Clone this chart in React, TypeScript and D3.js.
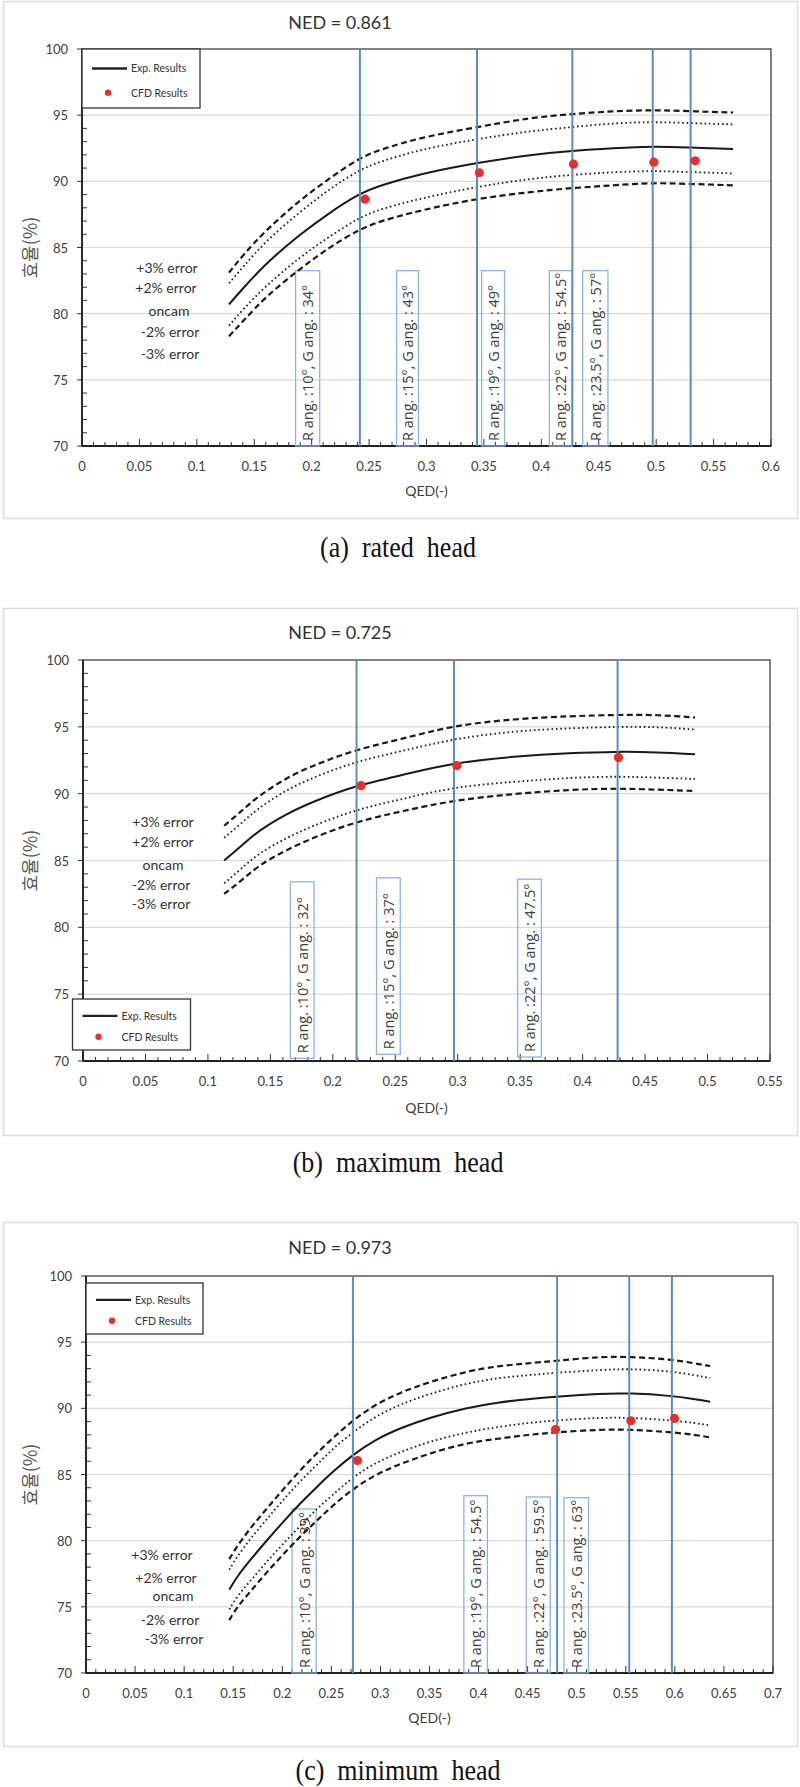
import { useEffect, useRef } from 'react';
import * as d3 from 'd3';

// ---- (a) rated head, NED = 0.861 ----
const qedA = [0.128, 0.14, 0.16, 0.19, 0.215, 0.242, 0.26, 0.294, 0.344, 0.39, 0.427, 0.4625, 0.497, 0.53, 0.567];
const oncamA = [80.7, 81.9, 83.8, 86.0, 87.6, 89.1, 89.7, 90.55, 91.4, 92.0, 92.3, 92.5, 92.65, 92.55, 92.45];
const plus3A = [83.1, 84.4, 86.3, 88.6, 90.2, 91.8, 92.4, 93.3, 94.1, 94.8, 95.1, 95.3, 95.4, 95.3, 95.2];
const plus2A = [82.3, 83.5, 85.5, 87.7, 89.4, 90.9, 91.5, 92.4, 93.2, 93.8, 94.1, 94.4, 94.5, 94.4, 94.3];
const minus2A = [79.1, 80.3, 82.1, 84.3, 85.8, 87.3, 87.9, 88.7, 89.6, 90.2, 90.5, 90.7, 90.8, 90.7, 90.6];
const minus3A = [78.3, 79.4, 81.3, 83.4, 85.0, 86.4, 87.0, 87.8, 88.7, 89.2, 89.5, 89.7, 89.9, 89.8, 89.7];
const cfdQA = [0.2465, 0.346, 0.428, 0.498, 0.534];
const cfdEA = [88.65, 90.65, 91.3, 91.45, 91.55];
const guidesA = [0.242, 0.344, 0.427, 0.497, 0.53];
const boxLabelsA = [
  'R ang. :10°, G ang. : 34°',
  'R ang. :15°, G ang. : 43°',
  'R ang. :19°, G ang. : 49°',
  'R ang. :22°, G ang. : 54.5°',
  'R ang. :23.5°, G ang. : 57°',
];
const boxFromA = [0.186, 0.274, 0.348, 0.407, 0.436];
const boxToA = [0.207, 0.293, 0.368, 0.427, 0.458];
const boxTopA = [83.25, 83.25, 83.25, 83.25, 83.25];
const boxBottomA = [70, 70, 70, 70, 70];

// ---- (b) maximum head, NED = 0.725 ----
const qedB = [0.113, 0.127, 0.14, 0.163, 0.184, 0.218, 0.256, 0.296, 0.346, 0.39, 0.428, 0.46, 0.49];
const oncamB = [85.0, 86.1, 87.2, 88.5, 89.4, 90.6, 91.4, 92.3, 92.8, 93.05, 93.15, 93.1, 92.95];
const plus3B = [87.6, 88.7, 89.8, 91.2, 92.1, 93.3, 94.1, 95.1, 95.6, 95.8, 95.9, 95.9, 95.7];
const plus2B = [86.7, 87.8, 88.9, 90.3, 91.2, 92.4, 93.2, 94.1, 94.7, 94.9, 95.0, 95.0, 94.8];
const minus2B = [83.3, 84.4, 85.5, 86.7, 87.6, 88.8, 89.6, 90.5, 90.9, 91.2, 91.3, 91.2, 91.1];
const minus3B = [82.5, 83.5, 84.6, 85.8, 86.7, 87.9, 88.7, 89.5, 90.0, 90.3, 90.4, 90.3, 90.2];
const cfdQB = [0.2226, 0.2993, 0.4287];
const cfdEB = [90.6, 92.1, 92.7];
const guidesB = [0.219, 0.297, 0.428];
const boxLabelsB = [
  'R ang. :10°, G ang. : 32°',
  'R ang. :15°, G ang. : 37°',
  'R ang. :22°, G ang. : 47.5°',
];
const boxFromB = [0.166, 0.235, 0.348];
const boxToB = [0.185, 0.254, 0.367];
const boxTopB = [83.4, 83.7, 83.6];
const boxBottomB = [70.2, 70.5, 70.3];

// ---- (c) minimum head, NED = 0.973 ----
const qedC = [0.146, 0.154, 0.168, 0.184, 0.2, 0.218, 0.235, 0.252, 0.272, 0.295, 0.32, 0.35, 0.388, 0.42, 0.45, 0.48, 0.524, 0.554, 0.597, 0.62, 0.636];
const oncamC = [76.3, 77.3, 78.6, 80.0, 81.35, 82.8, 84.05, 85.25, 86.5, 87.65, 88.5, 89.3, 90.05, 90.45, 90.7, 90.9, 91.12, 91.15, 90.95, 90.7, 90.5];
const plus3C = [78.6, 79.6, 81.0, 82.4, 83.8, 85.3, 86.6, 87.8, 89.1, 90.3, 91.2, 92.0, 92.8, 93.2, 93.4, 93.6, 93.9, 93.9, 93.7, 93.4, 93.2];
const plus2C = [77.8, 78.8, 80.2, 81.6, 83.0, 84.5, 85.7, 87.0, 88.2, 89.4, 90.3, 91.1, 91.9, 92.3, 92.5, 92.7, 92.9, 93.0, 92.8, 92.5, 92.3];
const minus2C = [74.8, 75.8, 77.0, 78.4, 79.7, 81.1, 82.4, 83.5, 84.8, 85.9, 86.7, 87.5, 88.2, 88.6, 88.9, 89.1, 89.3, 89.3, 89.1, 88.9, 88.7];
const minus3C = [74.0, 75.0, 76.2, 77.6, 78.9, 80.3, 81.5, 82.7, 83.9, 85.0, 85.8, 86.6, 87.4, 87.7, 88.0, 88.2, 88.4, 88.4, 88.2, 88.0, 87.8];
const cfdQC = [0.2766, 0.4784, 0.5551, 0.5997];
const cfdEC = [86.05, 88.4, 89.06, 89.24];
const guidesC = [0.272, 0.48, 0.5535, 0.597];
const boxLabelsC = [
  'R ang. :10°, G ang. : 39°',
  'R ang. :19°, G ang. : 54.5°',
  'R ang. :22°, G ang. : 59.5°',
  'R ang. :23.5°, G ang. : 63°',
];
const boxFromC = [0.21, 0.385, 0.4485, 0.487];
const boxToC = [0.2345, 0.409, 0.473, 0.512];
const boxTopC = [82.4, 83.4, 83.3, 83.25];
const boxBottomC = [70, 70, 70, 70];

const errorLabels = ['+3% error', '+2% error', 'oncam', '-2% error', '-3% error'];
const yTicks = [70, 75, 80, 85, 90, 95, 100];

const SANS = "Lato, 'Open Sans', sans-serif";

interface Panel {
  ned: string;
  caption: string;
  xMax: number;
  left: number; right: number; top: number; bottom: number;
  frameTop: number; frameBottom: number;
  titleY: number; captionY: number; qedY: number;
  qed: number[]; oncam: number[]; plus3: number[]; plus2: number[]; minus2: number[]; minus3: number[];
  cfdQ: number[]; cfdE: number[]; guides: number[];
  boxLabels: string[]; boxFrom: number[]; boxTo: number[]; boxTop: number[]; boxBottom: number[];
  errX: number[]; errY: number[];
  legend: { x: number; y: number; w: number; h: number };
}

const panels: Panel[] = [
  {
    ned: 'NED = 0.861', caption: '(a)  rated  head', xMax: 0.6,
    left: 82, right: 771, top: 49, bottom: 446, frameTop: 1, frameBottom: 518,
    titleY: 22, captionY: 547, qedY: 490,
    qed: qedA, oncam: oncamA, plus3: plus3A, plus2: plus2A, minus2: minus2A, minus3: minus3A,
    cfdQ: cfdQA, cfdE: cfdEA, guides: guidesA,
    boxLabels: boxLabelsA, boxFrom: boxFromA, boxTo: boxToA, boxTop: boxTopA, boxBottom: boxBottomA,
    errX: [167, 166, 169, 170, 170], errY: [267, 287, 310, 331, 353],
    legend: { x: 82, y: 49, w: 118, h: 59 },
  },
  {
    ned: 'NED = 0.725', caption: '(b)  maximum  head', xMax: 0.55,
    left: 83, right: 770, top: 660, bottom: 1061, frameTop: 608, frameBottom: 1135,
    titleY: 632, captionY: 1162, qedY: 1107,
    qed: qedB, oncam: oncamB, plus3: plus3B, plus2: plus2B, minus2: minus2B, minus3: minus3B,
    cfdQ: cfdQB, cfdE: cfdEB, guides: guidesB,
    boxLabels: boxLabelsB, boxFrom: boxFromB, boxTo: boxToB, boxTop: boxTopB, boxBottom: boxBottomB,
    errX: [163, 163, 163, 161, 161], errY: [821, 841, 864, 884, 903],
    legend: { x: 72.5, y: 999, w: 118, h: 51 },
  },
  {
    ned: 'NED = 0.973', caption: '(c)  minimum  head', xMax: 0.7,
    left: 86, right: 773, top: 1276, bottom: 1673, frameTop: 1222, frameBottom: 1746,
    titleY: 1247, captionY: 1770, qedY: 1717,
    qed: qedC, oncam: oncamC, plus3: plus3C, plus2: plus2C, minus2: minus2C, minus3: minus3C,
    cfdQ: cfdQC, cfdE: cfdEC, guides: guidesC,
    boxLabels: boxLabelsC, boxFrom: boxFromC, boxTo: boxToC, boxTop: boxTopC, boxBottom: boxBottomC,
    errX: [162, 166, 173, 170, 174], errY: [1554, 1577, 1595, 1619, 1638],
    legend: { x: 86, y: 1283, w: 117, h: 51 },
  },
];

function drawPanel(root: d3.Selection<SVGSVGElement, unknown, null, undefined>, p: Panel) {
  const g = root.append('g');
  const x = d3.scaleLinear().domain([0, p.xMax]).range([p.left, p.right]);
  const y = d3.scaleLinear().domain([70, 100]).range([p.bottom, p.top]);

  // outer light frame
  g.append('rect')
    .attr('x', 3.5).attr('y', p.frameTop + 0.5)
    .attr('width', 794).attr('height', p.frameBottom - p.frameTop)
    .attr('fill', 'none').attr('stroke', '#dcdcdc').attr('stroke-width', 1.5);

  g.append('text')
    .attr('x', 340).attr('y', p.titleY)
    .attr('text-anchor', 'middle').attr('dominant-baseline', 'central')
    .style('font-family', SANS).style('font-size', '18px').attr('fill', '#333')
    .text(p.ned);

  // gridlines
  g.selectAll('.grid')
    .data(yTicks.filter(v => v > 70 && v < 100))
    .join('line')
    .attr('x1', p.left).attr('x2', p.right)
    .attr('y1', d => y(d)).attr('y2', d => y(d))
    .attr('stroke', '#d9d9d9').attr('stroke-width', 1.2);

  // plot border
  g.append('rect')
    .attr('x', p.left).attr('y', p.top)
    .attr('width', p.right - p.left).attr('height', p.bottom - p.top)
    .attr('fill', 'none').attr('stroke', '#404040').attr('stroke-width', 1.3);

  // y minor ticks (inside) and major ticks (outside)
  g.selectAll('.yminor')
    .data(d3.range(71, 100).filter(v => v % 5 !== 0))
    .join('line')
    .attr('x1', p.left).attr('x2', p.left + 5)
    .attr('y1', d => y(d)).attr('y2', d => y(d))
    .attr('stroke', '#333').attr('stroke-width', 1);
  g.selectAll('.ymajor')
    .data(yTicks)
    .join('line')
    .attr('x1', p.left - 5).attr('x2', p.left)
    .attr('y1', d => y(d)).attr('y2', d => y(d))
    .attr('stroke', '#333').attr('stroke-width', 1);
  g.selectAll('.ylab')
    .data(yTicks)
    .join('text')
    .attr('x', p.left - 14).attr('y', d => y(d))
    .attr('text-anchor', 'end').attr('dominant-baseline', 'central')
    .style('font-family', SANS).style('font-size', '13px').attr('fill', '#404040')
    .text(d => d);

  // x ticks
  const nMinor = Math.round(p.xMax / 0.01);
  g.selectAll('.xminor')
    .data(d3.range(0, nMinor + 1))
    .join('line')
    .attr('x1', d => x(d * 0.01)).attr('x2', d => x(d * 0.01))
    .attr('y1', p.bottom).attr('y2', d => p.bottom - (d % 5 === 0 ? 7 : 4))
    .attr('stroke', '#333').attr('stroke-width', 1);
  const xMajor = d3.range(0, Math.round(p.xMax / 0.05) + 1).map(i => +(i * 0.05).toFixed(2));
  g.selectAll('.xlab')
    .data(xMajor)
    .join('text')
    .attr('x', d => x(d)).attr('y', p.bottom + 20)
    .attr('text-anchor', 'middle').attr('dominant-baseline', 'central')
    .style('font-family', SANS).style('font-size', '13px').attr('fill', '#404040')
    .text(d => String(d));

  // axis lines
  g.append('line').attr('x1', p.left).attr('x2', p.right).attr('y1', p.bottom).attr('y2', p.bottom)
    .attr('stroke', '#222').attr('stroke-width', 1.8);
  g.append('line').attr('x1', p.left).attr('x2', p.left).attr('y1', p.top).attr('y2', p.bottom)
    .attr('stroke', '#222').attr('stroke-width', 1.8);

  g.append('text')
    .attr('x', (p.left + p.right) / 2).attr('y', p.qedY)
    .attr('text-anchor', 'middle').attr('dominant-baseline', 'central')
    .style('font-family', SANS).style('font-size', '14px').attr('fill', '#404040')
    .text('QED(-)');

  const cy = (p.top + p.bottom) / 2;
  g.append('text')
    .attr('transform', `translate(29,${cy}) rotate(-90)`)
    .attr('text-anchor', 'middle').attr('dominant-baseline', 'central')
    .style('font-family', "'Noto Sans CJK KR', sans-serif").style('font-size', '18px').attr('fill', '#595959')
    .text('효율(%)');

  // annotation boxes
  p.boxLabels.forEach((label, i) => {
    const x0 = x(p.boxFrom[i]);
    const x1 = x(p.boxTo[i]);
    const yb = y(p.boxBottom[i]);
    g.append('rect')
      .attr('x', x0).attr('y', y(p.boxTop[i]))
      .attr('width', x1 - x0).attr('height', yb - y(p.boxTop[i]))
      .attr('fill', 'none').attr('stroke', '#8db3e2').attr('stroke-width', 1.3);
    g.append('text')
      .attr('transform', `translate(${(x0 + x1) / 2},${yb - 5}) rotate(-90)`)
      .attr('dominant-baseline', 'central')
      .style('font-family', "'Open Sans', sans-serif").style('font-size', '14.5px').attr('fill', '#404040')
      .text(label);
  });

  // oncam curve and error bands
  const line = d3.line<number>()
    .x((_d, i) => x(p.qed[i]))
    .y(d => y(d))
    .curve(d3.curveBasis);
  const bands = [
    { data: p.plus3, dash: '6 3.5', w: 2.2 },
    { data: p.plus2, dash: '1.6 2.8', w: 1.8 },
    { data: p.minus2, dash: '1.6 2.8', w: 1.8 },
    { data: p.minus3, dash: '6 3.5', w: 2.2 },
  ];
  bands.forEach(b => {
    g.append('path').attr('d', line(b.data) || '')
      .attr('fill', 'none').attr('stroke', '#1a1a1a')
      .attr('stroke-width', b.w).attr('stroke-dasharray', b.dash);
  });
  g.append('path').attr('d', line(p.oncam) || '')
    .attr('fill', 'none').attr('stroke', '#1a1a1a').attr('stroke-width', 2);

  // vertical guide lines
  g.selectAll('.guide')
    .data(p.guides)
    .join('line')
    .attr('x1', d => x(d)).attr('x2', d => x(d))
    .attr('y1', p.top).attr('y2', p.bottom)
    .attr('stroke', '#5b8ac8').attr('stroke-width', 2);

  // CFD points
  g.selectAll('.cfd')
    .data(p.cfdQ)
    .join('circle')
    .attr('cx', d => x(d)).attr('cy', (_d, i) => y(p.cfdE[i]))
    .attr('r', 4.6).attr('fill', '#e8302a');

  // error labels
  errorLabels.forEach((t, i) => {
    g.append('text')
      .attr('x', p.errX[i]).attr('y', p.errY[i])
      .attr('text-anchor', 'middle').attr('dominant-baseline', 'central')
      .style('font-family', SANS).style('font-size', '14px').attr('fill', '#333')
      .text(t);
  });

  // legend
  const L = p.legend;
  g.append('rect').attr('x', L.x).attr('y', L.y).attr('width', L.w).attr('height', L.h)
    .attr('fill', '#fff').attr('stroke', '#333').attr('stroke-width', 1.3);
  const ly1 = L.y + L.h * 0.33;
  const ly2 = L.y + L.h * 0.74;
  g.append('line').attr('x1', L.x + 10).attr('x2', L.x + 45).attr('y1', ly1).attr('y2', ly1)
    .attr('stroke', '#222').attr('stroke-width', 2.4);
  g.append('circle').attr('cx', L.x + 26).attr('cy', ly2).attr('r', 3.2).attr('fill', '#e8302a');
  [['Exp. Results', ly1], ['CFD Results', ly2]].forEach(([t, yy]) => {
    g.append('text').attr('x', L.x + 49).attr('y', yy as number)
      .attr('dominant-baseline', 'central')
      .style('font-family', SANS).style('font-size', '10.5px').attr('fill', '#333')
      .text(t as string);
  });

  // caption
  g.append('text')
    .attr('transform', `translate(398,${p.captionY}) scale(1,1.12)`)
    .attr('text-anchor', 'middle').attr('dominant-baseline', 'central')
    .style('font-family', "'Liberation Serif', 'DejaVu Serif', serif").style('font-size', '26px')
    .style('white-space', 'pre').attr('fill', '#111')
    .text(p.caption);
}

export default function App() {
  const svgRef = useRef<SVGSVGElement>(null);

  useEffect(() => {
    if (!svgRef.current) return;
    const svg = d3.select(svgRef.current);
    svg.selectAll('*').remove();
    panels.forEach(p => drawPanel(svg, p));
  }, []);

  return (
    <div style={{ position: 'absolute', left: 0, top: 0, width: 800, height: 1787, background: '#fff' }}>
      <svg ref={svgRef} width={800} height={1787} style={{ display: 'block' }} />
    </div>
  );
}
